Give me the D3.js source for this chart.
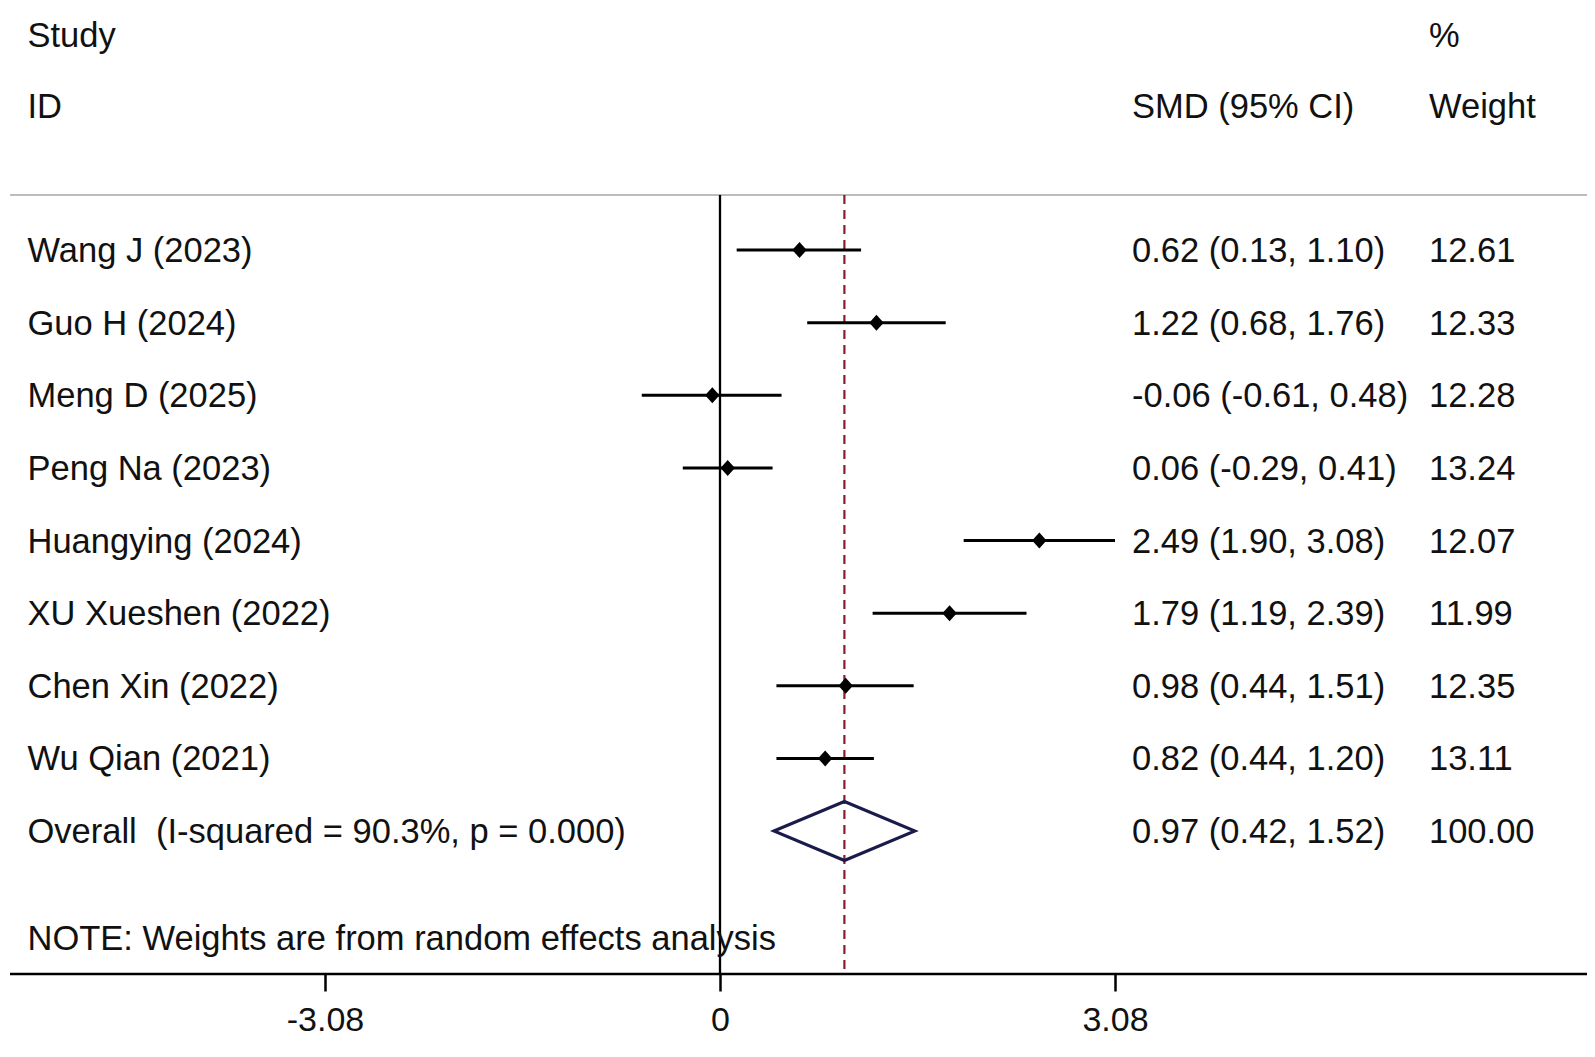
<!DOCTYPE html>
<html><head><meta charset="utf-8">
<script src="https://cdn.jsdelivr.net/npm/d3@7"></script>
<style>body{margin:0;background:#fff}svg{display:block}text{font-family:"Liberation Sans",Arial,sans-serif;fill:#111;white-space:pre}</style>
</head><body>
<svg id="c" width="1595" height="1057"></svg>
<script>
const studies = ["Wang J (2023)","Guo H (2024)","Meng D (2025)","Peng Na (2023)","Huangying (2024)","XU Xueshen (2022)","Chen Xin (2022)","Wu Qian (2021)"];
const smd =   [0.62, 1.22, -0.06, 0.06, 2.49, 1.79, 0.98, 0.82];
const lower = [0.13, 0.68, -0.61, -0.29, 1.90, 1.19, 0.44, 0.44];
const upper = [1.10, 1.76, 0.48, 0.41, 3.08, 2.39, 1.51, 1.20];
const weights = ["12.61","12.33","12.28","13.24","12.07","11.99","12.35","13.11"];
const ciLabels = ["0.62 (0.13, 1.10)","1.22 (0.68, 1.76)","-0.06 (-0.61, 0.48)","0.06 (-0.29, 0.41)","2.49 (1.90, 3.08)","1.79 (1.19, 2.39)","0.98 (0.44, 1.51)","0.82 (0.44, 1.20)"];
const overall = {label:"Overall  (I-squared = 90.3%, p = 0.000)", est:0.97, lo:0.42, hi:1.52, ci:"0.97 (0.42, 1.52)", w:"100.00"};
const tickValues = [-3.08, 0, 3.08];
const tickLabels = ["-3.08","0","3.08"];
const note = "NOTE: Weights are from random effects analysis";

const svg = d3.select("#c");
const x = d3.scaleLinear().domain([0, 3.08]).range([720, 1115]);
const rows = studies.map((d,i)=>i).concat(["overall"]);
const y = d3.scalePoint().domain(rows).range([250, 831]);
const fs = 34.5;
const topY = 195, axisY = 974;
const xL = 27.5, xCI = 1132, xW = 1429;

function txt(xx, yy, s, size){
  return svg.append("text").attr("x",xx).attr("y",yy).attr("dy","0.35em").attr("font-size",size||fs).text(s);
}

txt(xL, 35, "Study");
txt(xL, 106, "ID");
txt(xCI, 106, "SMD (95% CI)");
txt(xW, 35, "%");
txt(xW, 106, "Weight");

svg.append("line").attr("x1",10).attr("x2",1587).attr("y1",topY).attr("y2",topY).attr("stroke","#bdbdbd").attr("stroke-width",2);

svg.append("line").attr("x1",x(0)).attr("x2",x(0)).attr("y1",topY).attr("y2",axisY).attr("stroke","#000").attr("stroke-width",2.3);
svg.append("line").attr("x1",x(overall.est)).attr("x2",x(overall.est)).attr("y1",topY).attr("y2",axisY)
  .attr("stroke","#8a1c30").attr("stroke-width",2.2).attr("stroke-dasharray","9,6");

studies.forEach((s,i)=>{
  const yy = y(i);
  txt(xL, yy, s);
  svg.append("line").attr("x1",x(lower[i])).attr("x2",x(upper[i])).attr("y1",yy).attr("y2",yy).attr("stroke","#000").attr("stroke-width",3);
  const cx = x(smd[i]), rx = 7.2, ry = 8;
  svg.append("path").attr("d",`M${cx-rx},${yy}L${cx},${yy-ry}L${cx+rx},${yy}L${cx},${yy+ry}Z`).attr("fill","#000");
  txt(xCI, yy, ciLabels[i]);
  txt(xW, yy, weights[i]);
});

const oy = y("overall"), h = 29.5;
txt(xL, oy, overall.label);
svg.append("path").attr("d",`M${x(overall.lo)},${oy}L${x(overall.est)},${oy-h}L${x(overall.hi)},${oy}L${x(overall.est)},${oy+h}Z`)
  .attr("fill","none").attr("stroke","#1b1b4b").attr("stroke-width",3);
txt(xCI, oy, overall.ci);
txt(xW, oy, overall.w);

txt(xL, 938, note);

svg.append("line").attr("x1",10).attr("x2",1587).attr("y1",axisY).attr("y2",axisY).attr("stroke","#000").attr("stroke-width",2.5);
const axis = d3.axisBottom(x).tickValues(tickValues).tickFormat((d,i)=>tickLabels[i]).tickSize(17.5).tickPadding(15);
const ag = svg.append("g").attr("transform",`translate(0,${axisY})`).call(axis);
ag.select(".domain").remove();
ag.selectAll(".tick line").attr("stroke","#000").attr("stroke-width",2.5);
ag.selectAll(".tick text").attr("font-size",34).attr("fill","#111").attr("font-family","Liberation Sans, Arial, sans-serif");
</script>
</body></html>
